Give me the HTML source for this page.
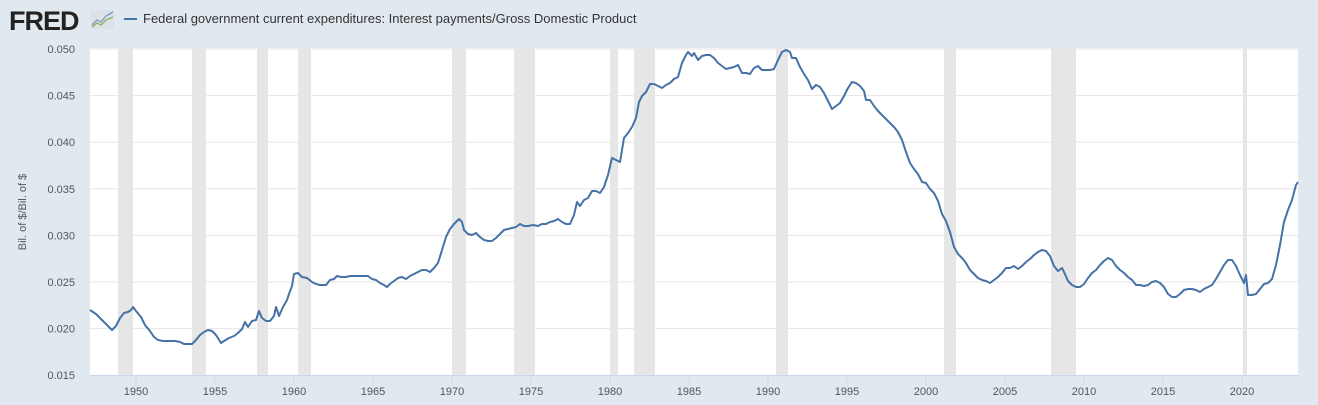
<!DOCTYPE html>
<html><head><meta charset="utf-8"><style>
body{margin:0;background:#e1e9f0;width:1318px;height:405px;overflow:hidden;font-family:"Liberation Sans",sans-serif}
</style></head><body>
<svg width="1318" height="405" xmlns="http://www.w3.org/2000/svg" style="position:absolute;left:0;top:0">
<rect width="1318" height="405" fill="#e1e9f0"/>
<text x="9" y="30" font-size="27" font-weight="bold" fill="#222" font-family="Liberation Sans" letter-spacing="-1">FRED</text>
<rect x="91" y="10" width="23" height="19" fill="#dbe3e8"/>
<polyline points="92,25 97,20 101,22 106,16 113,12" fill="none" stroke="#7a9cc0" stroke-width="1.3"/>
<polyline points="92,27 97,23 101,25 106,20 113,17" fill="none" stroke="#8ab060" stroke-width="1.3"/>
<line x1="124" y1="19" x2="137" y2="19" stroke="#4572a7" stroke-width="2"/>
<text x="143" y="23" font-size="13" fill="#333">Federal government current expenditures: Interest payments/Gross Domestic Product</text>
<rect x="90" y="48" width="1208" height="327" fill="#fff"/>
<g fill="#e6e6e6">
<rect x="118" y="48" width="15" height="327"/><rect x="192" y="48" width="14" height="327"/>
<rect x="257" y="48" width="11" height="327"/><rect x="298" y="48" width="13" height="327"/>
<rect x="452" y="48" width="14" height="327"/><rect x="514" y="48" width="21" height="327"/>
<rect x="610" y="48" width="8" height="327"/><rect x="634" y="48" width="21" height="327"/>
<rect x="776" y="48" width="12" height="327"/><rect x="944" y="48" width="12" height="327"/>
<rect x="1051" y="48" width="25" height="327"/><rect x="1243" y="48" width="4" height="327"/>
</g>
<g stroke="#e6e6e6" stroke-width="1">
<line x1="90" x2="1298" y1="49" y2="49"/><line x1="90" x2="1298" y1="95.6" y2="95.6"/>
<line x1="90" x2="1298" y1="142.2" y2="142.2"/><line x1="90" x2="1298" y1="188.8" y2="188.8"/>
<line x1="90" x2="1298" y1="235.4" y2="235.4"/><line x1="90" x2="1298" y1="282" y2="282"/>
<line x1="90" x2="1298" y1="328.6" y2="328.6"/>
</g>
<line x1="90" x2="1298" y1="375.5" y2="375.5" stroke="#ccd6eb"/>
<g stroke="#ccd6eb"><line x1="136" x2="136" y1="375" y2="385"/><line x1="215" x2="215" y1="375" y2="385"/><line x1="294" x2="294" y1="375" y2="385"/><line x1="373" x2="373" y1="375" y2="385"/><line x1="452" x2="452" y1="375" y2="385"/><line x1="531" x2="531" y1="375" y2="385"/><line x1="610" x2="610" y1="375" y2="385"/><line x1="689" x2="689" y1="375" y2="385"/><line x1="768" x2="768" y1="375" y2="385"/><line x1="847" x2="847" y1="375" y2="385"/><line x1="926" x2="926" y1="375" y2="385"/><line x1="1005" x2="1005" y1="375" y2="385"/><line x1="1084" x2="1084" y1="375" y2="385"/><line x1="1163" x2="1163" y1="375" y2="385"/><line x1="1242" x2="1242" y1="375" y2="385"/></g>
<g font-size="11" fill="#555" text-anchor="middle">
<text x="136" y="395">1950</text><text x="215" y="395">1955</text><text x="294" y="395">1960</text><text x="373" y="395">1965</text><text x="452" y="395">1970</text><text x="531" y="395">1975</text><text x="610" y="395">1980</text><text x="689" y="395">1985</text><text x="768" y="395">1990</text><text x="847" y="395">1995</text><text x="926" y="395">2000</text><text x="1005" y="395">2005</text><text x="1084" y="395">2010</text><text x="1163" y="395">2015</text><text x="1242" y="395">2020</text>
</g>
<g font-size="11" fill="#555" text-anchor="end">
<text x="75" y="53">0.050</text><text x="75" y="99.6">0.045</text><text x="75" y="146.2">0.040</text><text x="75" y="192.8">0.035</text><text x="75" y="239.4">0.030</text><text x="75" y="286">0.025</text><text x="75" y="332.6">0.020</text><text x="75" y="379">0.015</text>
</g>
<text transform="translate(26,212) rotate(-90)" font-size="11" fill="#555" text-anchor="middle">Bil. of $/Bil. of $</text>
<polyline fill="none" stroke="#4572a7" stroke-width="2" stroke-linejoin="round" points="90,310 96,314 100,318 106,324 112,330 116,326 120,318 124,313 128,312 131,310 133,307 136,311 141,317 145,325 150,331 154,337 158,340 163,341 168,341 175,341 180,342 184,344 188,344 192,344 196,340 200,335 204,332 208,330 212,331 216,335 221,343 224,341 229,338 234,336 238,333 242,329 245,322 248,327 252,321 256,320 259,311 262,318 266,321 270,321 274,316 276,307 279,316 283,307 287,300 289,294 292,286 294,274 298,273 302,277 307,278 312,282 316,284 320,285 326,285 330,280 334,279 337,276 341,277 346,277 350,276 354,276 358,276 362,276 368,276 372,279 376,280 380,283 384,285 387,287 390,284 394,281 398,278 402,277 406,279 410,276 414,274 418,272 422,270 426,270 430,272 434,268 438,263 442,250 446,237 450,229 454,224 459,219 462,222 464,230 468,234 472,235 476,233 480,237 484,240 488,241 492,241 496,238 500,234 504,230 508,229 512,228 516,227 520,224 524,226 528,226 533,225 538,226 542,224 546,224 550,222 554,221 558,219 562,222 566,224 570,224 574,215 577,202 580,206 584,200 588,198 592,191 596,191 600,193 604,187 608,175 612,158 616,160 620,162 624,138 628,133 632,127 636,118 639,102 642,96 646,92 650,84 654,84 658,86 662,88 666,85 670,83 674,79 678,77 682,63 686,55 688,52 692,56 694,53 698,60 702,56 706,55 710,55 714,58 718,63 722,66 726,69 730,68 734,67 738,65 742,73 746,73 750,74 754,68 758,66 762,70 766,70 770,70 774,69 778,60 782,52 786,50 790,52 792,58 796,58 800,67 804,74 808,80 812,89 816,85 820,87 824,93 828,101 832,109 836,106 840,103 844,96 848,88 852,82 856,83 860,86 864,91 866,100 870,100 874,106 878,111 882,115 886,119 890,123 894,127 898,132 902,140 906,152 910,163 914,169 918,174 922,182 926,183 930,189 934,193 938,201 942,214 946,221 950,232 954,247 958,254 962,258 966,263 970,270 974,274 978,278 982,280 986,281 990,283 994,280 998,277 1002,273 1006,268 1010,268 1014,266 1018,269 1022,266 1026,262 1030,259 1034,255 1038,252 1042,250 1046,251 1050,256 1054,266 1058,271 1062,268 1064,272 1068,281 1072,285 1076,287 1080,287 1084,284 1088,278 1092,273 1096,270 1100,265 1104,261 1108,258 1112,260 1116,266 1120,270 1124,273 1128,277 1132,280 1136,285 1140,285 1144,286 1148,285 1152,282 1156,281 1160,283 1164,287 1168,294 1172,297 1176,297 1180,294 1184,290 1188,289 1192,289 1196,290 1200,292 1204,289 1208,287 1212,285 1216,279 1220,272 1224,265 1228,260 1232,260 1236,266 1240,275 1244,283 1246,275 1248,295 1252,295 1256,294 1260,289 1264,284 1268,283 1272,279 1276,265 1280,245 1284,222 1288,210 1292,200 1296,185 1298,182"/>
</svg>
</body></html>
